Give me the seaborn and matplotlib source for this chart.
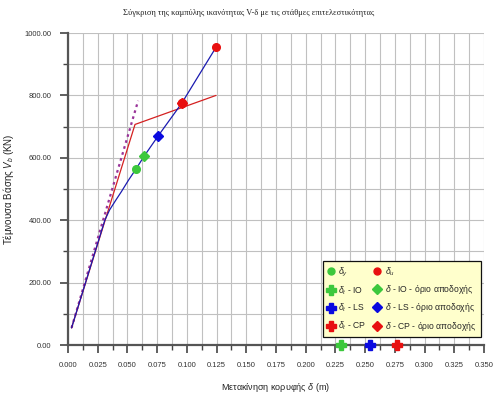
import numpy as np
import pandas as pd
import matplotlib
matplotlib.use('Agg')
import matplotlib.pyplot as plt
from matplotlib.ticker import MultipleLocator, FormatStrFormatter
from matplotlib.lines import Line2D
import seaborn as sns

# capacity curve V-delta
curve_d = [0.003, 0.031, 0.035, 0.040, 0.045, 0.051, 0.057, 0.064, 0.076, 0.0957, 0.110, 0.1245]
curve_v = [55, 400, 433, 463, 492, 529, 563, 605, 671, 775, 864, 954]

# bilinear idealisation
bil_d = [0.003, 0.0564, 0.1245]
bil_v = [55, 707, 800]

# initial stiffness (dashed)
k0_d = [0.003, 0.059]
k0_v = [55, 783]

# characteristic points
dy = (0.057, 563)
du = (0.1245, 954)
io_lim = (0.064, 605)
ls_lim = (0.076, 671)
cp_lim = (0.0957, 775)
dt_io = 0.230
dt_ls = 0.254
dt_cp = 0.277

sns.set_style('white')
plt.rcParams['font.family'] = ['Liberation Sans', 'DejaVu Sans']
plt.rcParams['mathtext.fontset'] = 'custom'
plt.rcParams['mathtext.rm'] = 'Liberation Sans'
plt.rcParams['mathtext.it'] = 'Liberation Sans:italic'

fig = plt.figure(figsize=(4.98, 3.93), dpi=100)
ax = fig.add_axes([0.1365, 0.122, 0.8355, 0.794])

curve_df = pd.DataFrame({'d': curve_d, 'V': curve_v})
bil_df = pd.DataFrame({'d': bil_d, 'V': bil_v})
k0_df = pd.DataFrame({'d': k0_d, 'V': k0_v})

sns.lineplot(data=k0_df, x='d', y='V', ax=ax, color='#993399', lw=1.6,
             linestyle=(0, (1.2, 1.6)), sort=False, zorder=3)
sns.lineplot(data=bil_df, x='d', y='V', ax=ax, color='#D42020', lw=0.9, sort=False, zorder=3)
sns.lineplot(data=curve_df, x='d', y='V', ax=ax, color='#1A1AB0', lw=0.9, sort=False, zorder=4)

ax.plot(*dy, 'o', color='#3CC83C', ms=5.5, zorder=5)
ax.plot(*du, 'o', color='#E81010', ms=5.5, zorder=5)
ax.plot(*io_lim, 'D', color='#3CC83C', ms=5.5, zorder=5)
ax.plot(*ls_lim, 'D', color='#0A0AE0', ms=5.5, zorder=5)
ax.plot(*cp_lim, 'o', color='#E81010', ms=6, zorder=5)
ax.plot(*cp_lim, 'D', color='#E81010', ms=5.5, zorder=5)
ax.plot(dt_io, 0, 'P', color='#3CC83C', ms=7, clip_on=False, zorder=6)
ax.plot(dt_ls, 0, 'P', color='#0A0AE0', ms=7, clip_on=False, zorder=6)
ax.plot(dt_cp, 0, 'P', color='#E81010', ms=7, clip_on=False, zorder=6)

ax.set_xlim(0, 0.35)
ax.set_ylim(0, 1000)
ax.xaxis.set_major_locator(MultipleLocator(0.025))
ax.xaxis.set_minor_locator(MultipleLocator(0.0125))
ax.yaxis.set_major_locator(MultipleLocator(200))
ax.yaxis.set_minor_locator(MultipleLocator(100))
ax.xaxis.set_major_formatter(FormatStrFormatter('%.3f'))
ax.yaxis.set_major_formatter(FormatStrFormatter('%.2f'))
ax.grid(True, which='both', color='#C0C0C0', lw=0.8)
ax.set_axisbelow(True)
ax.tick_params(axis='both', which='major', direction='out', length=6, width=1.2,
               color='#444444', labelsize=5.5, labelcolor='#333333', pad=6,
               bottom=True, left=True)
ax.tick_params(axis='both', which='minor', direction='out', length=3.5, width=1.0,
               color='#444444', bottom=True, left=True)
for s in ['top', 'right']:
    ax.spines[s].set_visible(False)
for s in ['left', 'bottom']:
    ax.spines[s].set_color('#555555')
    ax.spines[s].set_linewidth(1.6)

ax.set_xlabel('Μετακίνηση κορυφής $\\delta$ (m)', fontsize=6.5, color='#222222', labelpad=9)
ax.set_ylabel('Τέμνουσα Βάσης $V_b$ (KN)', fontsize=7, color='#222222')
ax.yaxis.set_label_coords(-0.124, 0.5)
fig.text(0.5, 0.968, 'Σύγκριση της καμπύλης ικανότητας V-δ με τις στάθμες επιτελεστικότητας',
         ha='center', va='center', fontsize=6, family='Liberation Serif', color='#222222')

handles = [
    Line2D([], [], ls='', marker='o', color='#3CC83C', ms=5),
    Line2D([], [], ls='', marker='P', color='#3CC83C', ms=6.5),
    Line2D([], [], ls='', marker='P', color='#0A0AE0', ms=6.5),
    Line2D([], [], ls='', marker='P', color='#E81010', ms=6.5),
    Line2D([], [], ls='', marker='o', color='#E81010', ms=5),
    Line2D([], [], ls='', marker='D', color='#3CC83C', ms=5),
    Line2D([], [], ls='', marker='D', color='#0A0AE0', ms=5),
    Line2D([], [], ls='', marker='D', color='#E81010', ms=5),
]
labels = ['$\\delta_y$', '$\\delta_t$ - IO', '$\\delta_t$ - LS', '$\\delta_t$ - CP',
          '$\\delta_u$', '$\\delta$ - IO - όριο αποδοχής',
          '$\\delta$ - LS - όριο αποδοχής', '$\\delta$ - CP - όριο αποδοχής']
leg = ax.legend(handles, labels, ncol=2, loc='lower right', bbox_to_anchor=(1.003, 0.012),
                fontsize=6.2, frameon=True, fancybox=False, handlelength=0.8,
                handletextpad=0.5, columnspacing=0.9, labelspacing=0.62,
                borderpad=0.5)
leg.get_frame().set_facecolor('#FFFFCC')
leg.get_frame().set_edgecolor('#111111')
leg.get_frame().set_linewidth(0.9)
leg.get_frame().set_alpha(1)
leg.set_zorder(10)

fig.savefig('out.png', dpi=100)
